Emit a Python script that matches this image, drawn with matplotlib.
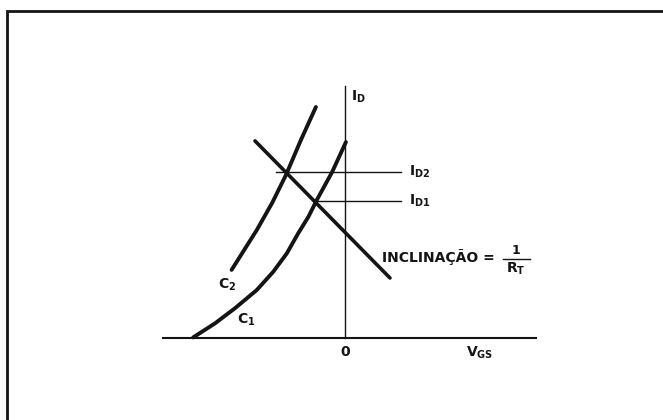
import matplotlib
matplotlib.use("Agg")
import matplotlib.pyplot as plt

# transfer curves (V_GS, I_D) in arbitrary units
c1_vgs = [-5.06, -4.33, -3.67, -2.94, -2.39, -1.94, -1.56, -1.22, -0.94, -0.43, 0.03]
c1_id = [0.02, 0.49, 0.99, 1.60, 2.21, 2.82, 3.49, 4.04, 4.60, 5.53, 6.53]
c2_vgs = [-3.78, -2.94, -2.43, -1.97, -1.47, -0.97]
c2_id = [2.27, 3.60, 4.50, 5.43, 6.60, 7.70]

# load line with slope 1/R_T
load_vgs = [-3.0, 1.5]
load_id = [6.57, 2.0]

# operating points
id2_level = 5.53
id1_level = 4.57
id2_start = -2.3
id1_start = -1.07
id_line_end = 1.87

# axis extents
x_axis = [-6.07, 6.37]
y_axis_top = 8.4

ink = "#141414"

plt.rcParams["font.family"] = ["DejaVu Sans"]
plt.rcParams["font.weight"] = "bold"
plt.rcParams["mathtext.fontset"] = "custom"
plt.rcParams["mathtext.rm"] = "DejaVu Sans:bold"
plt.rcParams["mathtext.it"] = "DejaVu Sans:bold"
plt.rcParams["mathtext.bf"] = "DejaVu Sans:bold"


def main():
    fig = plt.figure(figsize=(6.63, 4.2), dpi=100)
    ax = fig.add_axes([0, 0, 1, 1])
    s = 30.0  # pixels per unit
    ax.set_xlim(-345 / s, (663 - 345) / s)
    ax.set_ylim(-(420 - 338) / s, 338 / s)
    ax.axis("off")

    # frame of the scanned figure (left and top edges)
    ax.plot([7 / 663, 7 / 663, 1.0], [0.0, 1 - 11 / 420, 1 - 11 / 420],
            transform=ax.transAxes, color=ink, lw=2.0, solid_joinstyle="miter")

    # axes
    ax.plot(x_axis, [0, 0], color=ink, lw=1.5)
    ax.plot([0, 0], [0, y_axis_top], color=ink, lw=1.0)

    # curves
    ax.plot(c1_vgs, c1_id, color=ink, lw=2.8, solid_capstyle="round", solid_joinstyle="round")
    ax.plot(c2_vgs, c2_id, color=ink, lw=2.8, solid_capstyle="round", solid_joinstyle="round")
    ax.plot(load_vgs, load_id, color=ink, lw=2.6, solid_capstyle="round")

    # current levels
    ax.plot([id2_start, id_line_end], [id2_level, id2_level], color=ink, lw=1.0)
    ax.plot([id1_start, id_line_end], [id1_level, id1_level], color=ink, lw=1.0)

    fs = 10
    ax.text(id_line_end + 0.27, id2_level, r"$I_{D2}$", fontsize=fs, ha="left", va="center", color=ink)
    ax.text(id_line_end + 0.27, id1_level, r"$I_{D1}$", fontsize=fs, ha="left", va="center", color=ink)
    ax.text(0.2, y_axis_top - 0.35, r"$I_D$", fontsize=fs, ha="left", va="center", color=ink)
    ax.text(0, -0.45, "0", fontsize=fs, ha="center", va="center", color=ink)
    ax.text(4.5, -0.5, r"$V_{GS}$", fontsize=fs, ha="center", va="center", color=ink)
    ax.text(-3.93, 1.77, r"$C_2$", fontsize=fs, ha="center", va="center", color=ink)
    ax.text(-3.3, 0.6, r"$C_1$", fontsize=fs, ha="center", va="center", color=ink)

    # slope annotation
    ax.text(load_vgs[1] - 0.25, 2.7, "INCLINAÇÃO =", fontsize=fs, ha="left", va="center", color=ink)
    fx = 5.7
    ax.text(fx, 2.9, "1", fontsize=fs - 1, ha="center", va="center", color=ink)
    ax.plot([fx - 0.42, fx + 0.45], [2.65, 2.65], color=ink, lw=1.0)
    ax.text(fx, 2.3, r"$R_T$", fontsize=fs, ha="center", va="center", color=ink)

    fig.savefig("out.png", dpi=100, facecolor="white")


if __name__ == "__main__":
    main()
